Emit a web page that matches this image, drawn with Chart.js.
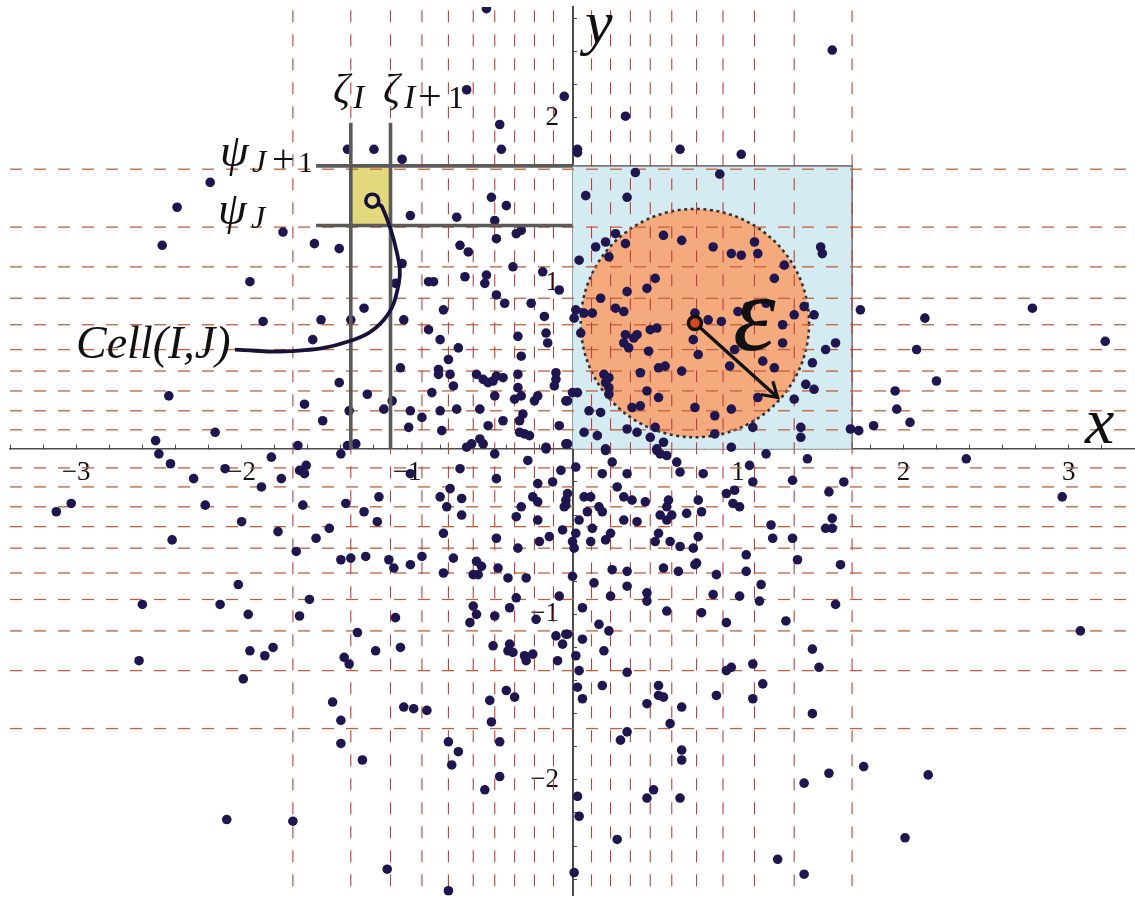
<!DOCTYPE html>
<html><head><meta charset="utf-8">
<style>html,body{margin:0;padding:0;background:#fff}#w{width:1135px;height:897px;position:relative}</style>
<script src="https://cdn.jsdelivr.net/npm/chart.js@4/dist/chart.umd.min.js"></script>
</head><body><div id="w"><canvas id="c" width="1135" height="897"></canvas></div>
<script>
const upperLeft=[[-0.52,2.66],[-0.64,2.17],[-0.05,2.13],[-0.44,1.96],[-0.43,1.81],[-1.36,1.81],[-1.20,1.81],[-1.03,1.75],[-2.19,1.61],[-2.39,1.46],[-0.49,1.52],[-0.40,1.47],[-0.98,1.41],[-0.70,1.40],[-0.47,1.38],[-2.48,1.23],[-1.75,1.31],[-1.56,1.24],[-1.41,1.21],[-0.34,1.30],[-0.31,1.32],[-0.46,1.27],[-0.68,1.23],[-0.63,1.19],[-1.03,1.12],[-0.36,1.10],[-0.18,1.07],[-1.07,1.00],[-1.95,1.01],[-0.87,1.01],[-0.84,1.01],[-0.65,1.04],[-0.52,1.05],[-0.53,1.00],[-0.08,0.96],[-0.46,0.93],[-0.41,0.88],[-0.25,0.88],[-1.26,0.85],[-0.78,0.84],[-0.17,0.80],[-1.87,0.77],[-1.52,0.78],[-1.34,0.78],[-1.02,0.78],[-0.87,0.72],[-0.16,0.70],[-0.15,0.64],[-0.33,0.68],[-0.80,0.66],[-1.57,0.66],[-0.69,0.61],[-0.31,0.56],[-0.75,0.54],[-1.04,0.49],[-0.81,0.48],[-0.81,0.45],[-0.74,0.45],[-1.41,0.40],[-0.58,0.45],[-0.54,0.42],[-0.51,0.40],[-0.48,0.41],[-0.46,0.44],[-0.42,0.43],[-0.33,0.45],[-0.10,0.46],[-0.10,0.42],[-0.11,0.38],[-0.33,0.37],[-0.72,0.38],[-0.85,0.34],[-2.44,0.32],[-1.24,0.33],[-0.47,0.32],[-0.35,0.30],[-0.31,0.32],[-0.21,0.32],[-0.23,0.29],[-0.04,0.29],[-1.62,0.27],[-1.09,0.29],[-1.14,0.24],[-1.35,0.23],[-0.98,0.23],[-0.80,0.23],[-0.70,0.24],[-0.56,0.24],[-0.91,0.19],[-1.51,0.17],[-0.30,0.21],[-0.32,0.17],[-0.42,0.17],[-0.51,0.14],[-0.08,0.14],[-0.99,0.13],[-0.79,0.11],[-2.16,0.10],[-0.32,0.10],[-0.29,0.09],[-0.26,0.08],[-2.52,0.05],[-1.66,0.02],[-1.36,0.02],[-1.31,0.03],[-0.64,0.01],[-0.61,0.03],[-0.56,0.06],[-0.54,0.03],[-0.16,0.01],[-0.04,0.03]];
const upperRight=[[1.57,2.41],[0.32,2.01],[0.03,1.81],[0.03,1.79],[0.65,1.81],[1.02,1.78],[0.38,1.67],[0.89,1.66],[0.08,1.53],[0.33,1.52],[0.26,1.30],[0.20,1.25],[0.14,1.22],[0.32,1.24],[0.55,1.29],[0.66,1.26],[0.85,1.22],[1.10,1.25],[0.96,1.18],[1.02,1.17],[1.12,1.18],[1.50,1.22],[1.51,1.18],[0.22,1.16],[0.04,1.14],[1.28,1.11],[1.22,1.03],[0.50,1.03],[0.45,0.97],[0.33,0.95],[0.17,0.91],[0.26,0.85],[0.31,0.83],[0.02,0.84],[0.01,0.79],[0.07,0.82],[0.12,0.82],[0.05,0.70],[0.74,0.82],[0.82,0.78],[0.90,0.77],[1.00,0.83],[1.06,0.86],[1.17,0.88],[1.34,0.81],[1.40,0.86],[1.46,0.81],[1.74,0.84],[1.27,0.75],[2.13,0.79],[2.78,0.85],[3.22,0.65],[2.08,0.60],[2.20,0.41],[1.95,0.35],[1.96,0.24],[2.04,0.16],[1.82,0.14],[1.68,0.12],[1.73,0.11],[1.59,0.64],[1.53,0.60],[1.45,0.52],[1.27,0.64],[0.98,0.60],[0.73,0.66],[0.76,0.57],[1.15,0.53],[1.22,0.49],[0.95,0.50],[0.66,0.47],[0.56,0.50],[0.52,0.49],[0.41,0.46],[0.46,0.59],[0.51,0.73],[0.47,0.72],[0.39,0.69],[0.32,0.69],[0.37,0.67],[0.31,0.64],[0.34,0.61],[0.19,0.45],[0.22,0.43],[0.20,0.40],[0.22,0.37],[0.22,0.33],[0.45,0.35],[0.52,0.31],[1.41,0.39],[1.46,0.36],[1.12,0.31],[1.34,0.30],[0.00,0.34],[0.03,0.34],[-0.03,0.29],[0.10,0.23],[0.17,0.22],[0.36,0.25],[0.41,0.26],[0.74,0.25],[0.96,0.24],[0.86,0.20],[0.07,0.10],[0.15,0.08],[0.33,0.12],[0.39,0.10],[0.50,0.13],[0.47,0.07],[0.55,0.04],[0.86,0.09],[1.09,0.13],[1.38,0.13],[1.38,0.07],[-0.03,0.03],[0.20,0.00],[0.51,0.00],[0.96,0.01]];
const lowerLeft=[[-2.50,-0.03],[-2.43,-0.09],[-2.29,-0.18],[-2.10,-0.12],[-1.82,-0.05],[-1.88,-0.23],[-1.76,-0.18],[-1.61,-0.10],[-1.65,-0.13],[-1.62,-0.15],[-1.40,-0.03],[-3.12,-0.38],[-3.03,-0.33],[-2.22,-0.34],[-1.63,-0.34],[-1.37,-0.33],[-1.17,-0.29],[-1.26,-0.38],[-1.18,-0.44],[-2.00,-0.44],[-1.78,-0.50],[-1.47,-0.48],[-1.55,-0.54],[-2.42,-0.55],[-1.67,-0.62],[-1.40,-0.67],[-1.34,-0.66],[-1.25,-0.65],[-1.11,-0.67],[-1.08,-0.72],[-0.98,-0.70],[-0.91,-0.65],[-0.98,-0.15],[-0.68,-0.12],[-0.74,-0.24],[-0.80,-0.29],[-0.67,-0.30],[-0.76,-0.35],[-0.67,-0.40],[-0.78,-0.51],[-0.47,-0.03],[-0.46,-0.18],[-0.27,-0.07],[-0.16,0.00],[-0.07,-0.13],[-0.21,-0.21],[-0.12,-0.20],[-0.24,-0.29],[-0.21,-0.32],[-0.31,-0.35],[-0.34,-0.41],[-0.21,-0.43],[-0.06,-0.49],[-0.14,-0.53],[-0.20,-0.56],[-0.46,-0.54],[-0.33,-0.60],[-0.04,-0.31],[-0.05,-0.35],[-0.72,-0.66],[-0.78,-0.75],[-0.58,-0.68],[-0.55,-0.71],[-0.60,-0.76],[-0.57,-0.76],[-0.45,-0.72],[-0.39,-0.78],[-0.28,-0.78],[-0.34,-0.90],[-0.08,-0.89],[-0.60,-0.95],[-0.58,-1.00],[-0.62,-1.05],[-0.47,-1.01],[-0.38,-0.96],[-0.22,-1.03],[-2.02,-0.82],[-2.60,-0.94],[-2.13,-0.94],[-1.96,-1.00],[-1.59,-0.91],[-1.65,-1.01],[-1.07,-1.02],[-1.30,-1.11],[-1.95,-1.22],[-1.81,-1.20],[-1.86,-1.25],[-2.62,-1.28],[-1.99,-1.39],[-1.38,-1.26],[-1.35,-1.30],[-1.19,-1.22],[-1.04,-1.20],[-0.48,-1.19],[-0.38,-1.18],[-0.39,-1.22],[-0.36,-1.23],[-0.29,-1.25],[-0.28,-1.28],[-0.24,-1.24],[-0.10,-1.13],[-0.04,-1.12],[-0.06,-1.18],[-0.09,-1.28],[-0.40,-1.46],[-0.50,-1.52],[-0.35,-1.50],[-1.02,-1.56],[-0.96,-1.57],[-0.88,-1.58],[-1.45,-1.53],[-1.40,-1.64],[-0.49,-1.65],[-1.40,-1.78],[-0.75,-1.77],[-0.44,-1.77],[-0.69,-1.83],[-1.27,-1.88],[-0.73,-1.91],[-0.44,-1.98],[-0.53,-2.06],[-2.09,-2.24],[-1.69,-2.25],[-1.12,-2.54],[-0.75,-2.67]];
const lowerRight=[[1.17,-0.03],[1.42,-0.06],[2.38,-0.06],[0.51,-0.01],[0.53,-0.03],[0.57,-0.04],[0.20,-0.01],[0.24,-0.08],[0.63,-0.08],[0.65,-0.14],[0.79,-0.15],[0.33,-0.15],[0.18,-0.15],[0.02,-0.11],[1.07,-0.10],[1.09,-0.20],[1.33,-0.19],[1.64,-0.20],[1.55,-0.26],[2.96,-0.29],[0.27,-0.23],[0.98,-0.25],[0.93,-0.27],[0.97,-0.33],[1.01,-0.35],[-0.03,-0.27],[0.07,-0.29],[0.11,-0.29],[0.31,-0.29],[0.36,-0.31],[0.44,-0.32],[0.58,-0.31],[0.57,-0.35],[0.76,-0.31],[-0.04,-0.34],[0.16,-0.35],[0.18,-0.38],[0.09,-0.38],[0.04,-0.43],[0.31,-0.43],[0.39,-0.44],[0.53,-0.40],[0.60,-0.40],[0.57,-0.43],[0.69,-0.39],[0.78,-0.38],[0.12,-0.48],[1.20,-0.46],[1.57,-0.42],[1.53,-0.48],[1.57,-0.48],[1.21,-0.54],[1.33,-0.54],[0.02,-0.51],[0.23,-0.51],[0.20,-0.55],[0.11,-0.56],[0.00,-0.56],[0.01,-0.60],[0.52,-0.51],[0.50,-0.56],[0.59,-0.56],[0.65,-0.59],[0.73,-0.60],[0.76,-0.53],[1.05,-0.64],[1.36,-0.67],[1.62,-0.70],[0.75,-0.69],[0.74,-0.70],[0.24,-0.73],[0.33,-0.74],[0.55,-0.72],[0.64,-0.74],[0.87,-0.76],[1.05,-0.74],[0.00,-0.77],[0.13,-0.81],[1.14,-0.82],[0.33,-0.83],[0.45,-0.87],[0.45,-0.92],[0.23,-0.89],[0.85,-0.88],[1.01,-0.89],[1.13,-0.92],[1.59,-0.94],[0.06,-0.96],[0.57,-0.98],[0.78,-0.99],[0.93,-1.05],[1.29,-1.04],[0.16,-1.06],[0.22,-1.10],[3.07,-1.10],[-0.03,-1.12],[0.06,-1.15],[0.19,-1.22],[0.02,-1.25],[1.45,-1.21],[1.49,-1.32],[1.09,-1.30],[0.96,-1.32],[0.93,-1.34],[0.04,-1.34],[0.33,-1.35],[1.15,-1.42],[0.52,-1.43],[0.18,-1.43],[0.03,-1.44],[0.52,-1.49],[0.55,-1.50],[0.87,-1.49],[1.09,-1.51],[0.06,-1.51],[0.45,-1.54],[0.66,-1.56],[1.45,-1.60],[0.59,-1.66],[0.33,-1.71],[0.29,-1.76],[0.66,-1.82],[0.66,-1.88],[1.76,-1.92],[1.55,-1.96],[2.15,-1.97],[1.40,-2.02],[0.49,-2.06],[0.45,-2.11],[0.65,-2.11],[0.03,-2.10],[0.04,-2.22],[0.27,-2.36],[2.01,-2.35],[1.24,-2.48],[1.40,-2.57],[0.01,-2.56]];
const gridValues=[-1.69,-1.34,-1.10,-0.91,-0.75,-0.60,-0.47,-0.35,-0.23,-0.115,0.115,0.23,0.35,0.47,0.60,0.75,0.91,1.10,1.34,1.69];
const cellX=[-1.34,-1.10];
const cellY=[1.35,1.71];
const cellPoint=[-1.21,1.50];
const leaderCurve=[[-1.20,1.49],[-1.15,1.46],[-1.06,1.18],[-1.05,1.00],[-1.14,0.78],[-1.35,0.65],[-1.70,0.59],[-2.04,0.60]];
const epsCenter=[0.74,0.76];
const epsRadius=0.69;
const epsArrowTip=[1.24,0.31];
const xTickLabels=[-3,-2,-1,1,2,3];
const yTickLabels=[-2,-1,1,2];
const XMIN=-3.4,XMAX=3.4,YMIN=-2.7,YMAX=2.67;
const pts=a=>a.map(p=>({x:p[0],y:p[1]}));
const line=(data,color,width,dash,order,extra)=>Object.assign({type:'scatter',data,showLine:true,borderColor:color,borderWidth:width,borderDash:dash||[],pointRadius:0,order,clip:true},extra||{});
const datasets=[];
gridValues.forEach(v=>datasets.push(line([{x:v,y:2.65},{x:v,y:-2.68}],'#b8433c',1.1,[12,12],9)));
gridValues.forEach(v=>datasets.push(line([{x:XMIN,y:v},{x:XMAX,y:v}],'#c2603c',1.3,[12,12],9)));
datasets.push({type:'scatter',data:pts([...upperLeft,...upperRight,...lowerLeft,...lowerRight]),pointRadius:4.8,pointBackgroundColor:'#1f1650',pointBorderWidth:0,order:5});
cellX.forEach(v=>datasets.push(line([{x:v,y:0},{x:v,y:1.97}],'#5a5a58',3.6,[],4)));
cellY.forEach(v=>datasets.push(line([{x:-1.55,y:v},{x:0,y:v}],'#5a5a58',3.6,[],4)));
datasets.push(line(pts(leaderCurve),'#16123c',3.8,[],3,{tension:0.4}));
datasets.push({type:'scatter',data:pts([cellPoint]),pointRadius:6.5,pointBackgroundColor:'#e6dc8c',pointBorderColor:'#14123a',pointBorderWidth:3.5,order:2});
datasets.push(line(pts([epsCenter,epsArrowTip]),'#111',3.4,[],3));
datasets.push({type:'scatter',data:pts([epsCenter]),pointRadius:6.5,pointBackgroundColor:'#d8481e',pointBorderColor:'#111',pointBorderWidth:3.5,order:1});
const serif='"Liberation Serif"';
const texts=[
 ['ζ','italic 42px',333,103],['I','italic 34px',353,108],
 ['ζ','italic 42px',383,103],['I','italic 34px',404,108],['+','42px',418,110],['1','32px',448,108],
 ['ψ','italic 46px',220,166],['J','italic 32px',252,172],['+','40px',272,172],['1','30px',298,172],
 ['ψ','italic 46px',218,224],['J','italic 32px',251,228],
 ['Cell(I,J)','italic 46px',76,358],
 ['ε','italic 108px',733,350],
 ['x','italic 66px',1085,443],
 ['y','italic 62px',585,43]
];
const decor={id:'decor',
 beforeDatasetsDraw(ch){const {ctx,scales:{x,y}}=ch;const X=v=>x.getPixelForValue(v),Y=v=>y.getPixelForValue(v);
  ctx.save();
  ctx.fillStyle='#d4ebf2';ctx.fillRect(X(0),Y(1.71),X(1.69)-X(0),Y(0)-Y(1.71));
  ctx.strokeStyle='#75787c';ctx.lineWidth=1.6;ctx.beginPath();ctx.moveTo(X(0),Y(1.71));ctx.lineTo(X(1.69),Y(1.71));ctx.lineTo(X(1.69),Y(0));ctx.stroke();
  ctx.fillStyle='#e3d97c';ctx.fillRect(X(cellX[0]),Y(cellY[1]),X(cellX[1])-X(cellX[0]),Y(cellY[0])-Y(cellY[1]));
  const r=X(epsCenter[0]+epsRadius)-X(epsCenter[0]);
  ctx.fillStyle='#f5aa7e';ctx.beginPath();ctx.arc(X(epsCenter[0]),Y(epsCenter[1]),r,0,Math.PI*2);ctx.fill();
  ctx.strokeStyle='#33302e';ctx.lineWidth=2.6;ctx.setLineDash([3,3.5]);ctx.stroke();
  ctx.restore();
 },
 afterDatasetsDraw(ch){const {ctx,scales:{x,y}}=ch;const X=v=>x.getPixelForValue(v),Y=v=>y.getPixelForValue(v);
  ctx.save();
  const tx=X(epsArrowTip[0]),ty=Y(epsArrowTip[1]);
  const a=Math.atan2(ty-Y(epsCenter[1]),tx-X(epsCenter[0]));
  ctx.strokeStyle='#111';ctx.lineWidth=3.2;ctx.lineJoin='miter';ctx.beginPath();
  ctx.moveTo(tx-17*Math.cos(a-0.55),ty-17*Math.sin(a-0.55));ctx.lineTo(tx,ty);ctx.lineTo(tx-17*Math.cos(a+0.55),ty-17*Math.sin(a+0.55));ctx.stroke();
  ctx.fillStyle='#111';ctx.textBaseline='alphabetic';ctx.textAlign='left';
  texts.forEach(t=>{ctx.font=t[1]+' '+serif;ctx.fillText(t[0],t[2],t[3]);});
  ctx.restore();
 }};
const tickFn=list=>v=>{const n=Math.round(v);if(Math.abs(v-n)<1e-6&&list.includes(n))return n<0?'\u2212'+(-n):''+n;return '';};
const noPad=s=>{s.paddingLeft=s.paddingRight=s.paddingTop=s.paddingBottom=0;};
new Chart(document.getElementById('c'),{
 type:'scatter',
 data:{datasets},
 options:{responsive:false,animation:false,
  layout:{autoPadding:false,padding:{left:10,right:0,top:7,bottom:1.3}},
  plugins:{legend:{display:false},tooltip:{enabled:false},title:{display:false}},
  scales:{
   x:{type:'linear',min:XMIN,max:XMAX,position:{y:0},afterFit:noPad,
    border:{display:true,color:'#4c4c4c',width:1.6},
    grid:{drawOnChartArea:false,drawTicks:true,tickLength:-5,color:'#4c4c4c',lineWidth:1},
    ticks:{stepSize:0.2,autoSkip:false,maxRotation:0,minRotation:0,padding:13,color:'#111',font:{family:serif,size:27},callback:tickFn(xTickLabels)}},
   y:{type:'linear',min:YMIN,max:YMAX,position:{x:0},afterFit:noPad,
    border:{display:true,color:'#4c4c4c',width:2},
    grid:{drawOnChartArea:false,drawTicks:true,tickLength:-5,color:'#4c4c4c',lineWidth:1},
    ticks:{stepSize:0.2,autoSkip:false,includeBounds:false,color:'#111',font:{family:serif,size:27},callback:v=>{const s=tickFn(yTickLabels)(v);return s?s+'\u2002':'';}}}
  }
 },
 plugins:[decor]
});
</script></body></html>
